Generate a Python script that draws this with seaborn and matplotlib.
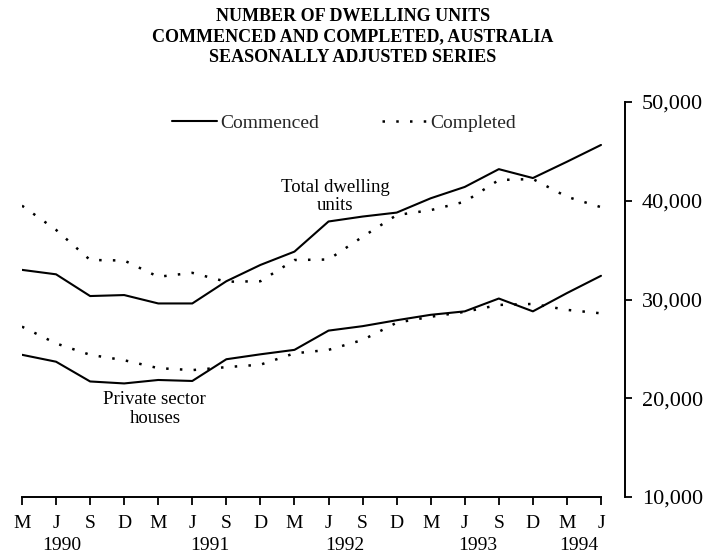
import matplotlib
matplotlib.use("Agg")
import matplotlib.pyplot as plt
import matplotlib.transforms as mtransforms
from matplotlib.lines import Line2D
from matplotlib.ticker import FuncFormatter
import seaborn as sns
import pandas as pd

# ---- data ----
quarters = ["M", "J", "S", "D", "M", "J", "S", "D", "M", "J", "S", "D",
            "M", "J", "S", "D", "M", "J"]
years = ["1990", "1991", "1992", "1993", "1994"]
total_commenced = [33000, 32550, 30350, 30450, 29600, 29600, 31850, 33500,
                   34850, 37900, 38400, 38800, 40250, 41400, 43200, 42300,
                   43950, 45650]
total_completed = [39500, 37050, 34000, 33950, 32300, 32700, 31800, 31850,
                   34000, 34050, 36350, 38550, 39050, 39900, 42100, 42200,
                   40400, 39350]
private_commenced = [24400, 23700, 21700, 21500, 21850, 21750, 23950, 24450,
                     24900, 26850, 27300, 27900, 28450, 28800, 30100, 28800,
                     30650, 32400]
private_completed = [27250, 25550, 24400, 23850, 23050, 22850, 23150, 23400,
                     24550, 24900, 25900, 27650, 28250, 28750, 29450, 29550,
                     28950, 28600]
yticks = [10000, 20000, 30000, 40000, 50000]

# ---- styling ----
sns.set_theme(style="white")
plt.rcParams["font.family"] = ["Liberation Serif", "DejaVu Serif"]

fig = plt.figure(figsize=(7.06, 5.53), dpi=100)
ax = fig.add_axes([22 / 706, 56 / 553, 603 / 706, 395 / 553])

idx = list(range(len(quarters)))
solid = "-"
dotted = (0, (1, 4.5))
series = [
    (total_commenced, solid, 1.5),
    (total_completed, dotted, 1.8),
    (private_commenced, solid, 1.5),
    (private_completed, dotted, 1.8),
]
for vals, ls, lw in series:
    df = pd.DataFrame({"q": idx, "v": vals})
    sns.lineplot(data=df, x="q", y="v", ax=ax, color="black",
                 linewidth=lw, linestyle=ls)

ax.set_xlim(0, 17 + 24 / 34.06)
ax.set_ylim(10000, 50000)
ax.set_xlabel("")
ax.set_ylabel("")

# spines
ax.spines["left"].set_visible(False)
ax.spines["top"].set_visible(False)
for s in ("right", "bottom"):
    ax.spines[s].set_color("black")
    ax.spines[s].set_linewidth(1.4)
ax.spines["bottom"].set_bounds(0, 17)

ax.yaxis.tick_right()
ax.set_yticks(yticks)
ax.yaxis.set_major_formatter(FuncFormatter(lambda v, p: f"{int(v):,}"))
ax.tick_params(axis="y", which="major", direction="out", length=5, width=1.3,
               pad=7, labelsize=16, colors="black", left=False, right=True)

ax.set_xticks(idx)
ax.set_xticklabels(quarters)
ax.tick_params(axis="x", which="major", direction="out", length=6, width=1.3,
               pad=7, labelsize=14, colors="black", bottom=True)

# year labels
year_pos = [1.17, 5.52, 9.48, 13.39, 16.35]
trans = mtransforms.blended_transform_factory(ax.transData, fig.transFigure)
for yr, xp in zip(years, year_pos):
    ax.text(xp, 8 / 553, yr, transform=trans, ha="center", va="center",
            fontsize=14, color="black")

# annotations
ax.text(9.19, 40400, "Total dwelling\nunits", ha="center", va="center",
        fontsize=13.5, linespacing=1.1, color="black")
ax.text(3.9, 18900, "Private sector\nhouses", ha="center", va="center",
        fontsize=13.5, linespacing=1.1, color="black")

# legend
handles = [Line2D([], [], color="black", lw=1.5, linestyle=solid),
           Line2D([], [], color="black", lw=1.8, linestyle=dotted)]
leg = ax.legend(handles, ["Commenced", "Completed"], ncol=2, frameon=False,
                loc="center", bbox_to_anchor=(344 / 706, 1 - 123 / 553),
                bbox_transform=fig.transFigure, fontsize=14,
                handlelength=2.3, handletextpad=0.2, columnspacing=3.2)

# title
fig.text(0.5, 1 - 8 / 553,
         "NUMBER OF DWELLING UNITS\nCOMMENCED AND COMPLETED, AUSTRALIA\nSEASONALLY ADJUSTED SERIES",
         ha="center", va="top", fontsize=13, fontweight="bold",
         linespacing=1.25, color="black")

fig.savefig("out.png", dpi=100)
